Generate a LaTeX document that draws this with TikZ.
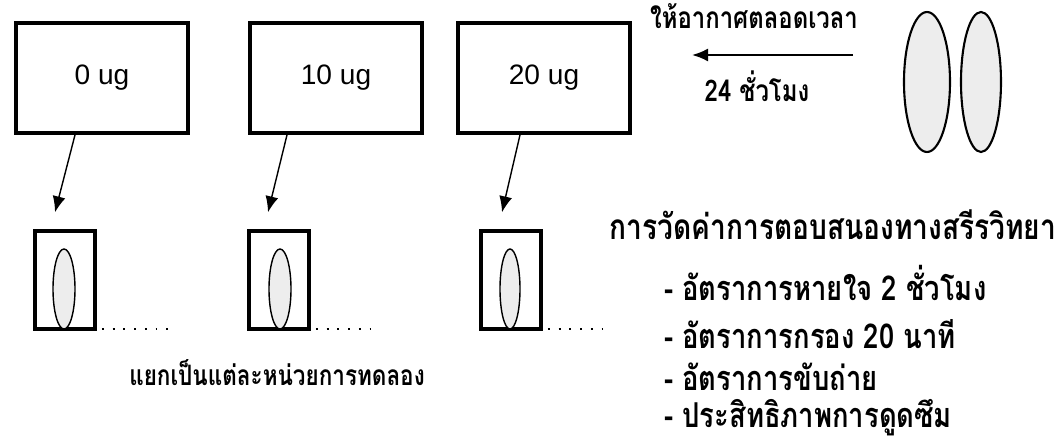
\documentclass[tikz,border=0pt]{standalone}
\usepackage{fontspec}
\setmainfont{Liberation Sans}
\newfontfamily\thaifont[Script=Thai,FakeStretch=0.8]{Loma}
\usetikzlibrary{arrows,arrows.meta,positioning}

\tikzset{
  tank/.style={draw, line width=2.2pt, minimum width=3.45cm, minimum height=2.2cm, font=\fontsize{16}{18}\selectfont},
  unit/.style={draw, line width=2.2pt, minimum width=1.2cm, minimum height=1.95cm},
  shell/.style={draw, line width=0.8pt, fill=black!7},
  arr/.style={-{Latex[length=3.2mm,width=2.6mm]}, line width=0.8pt},
  thai/.style={font=\thaifont\bfseries\fontsize{#1}{#1}\selectfont, inner sep=1pt},
  thai/.default=20,
  dotrow/.style={line width=1.1pt, dash pattern=on 1.1pt off 5pt}
}

\begin{document}
\begin{tikzpicture}[x=0.02cm,y=-0.02cm]
\useasboundingbox (0,0) rectangle (1063,442);
% dose groups
\node[tank] (big1) at (102,78) {0 ug};
\node[tank] (big2) at (336,78) {10 ug};
\node[tank] (big3) at (544,78) {20 ug};
% single experimental units
\node[unit] (small1) at (65,280) {};
\node[unit] (small2) at (279,280) {};
\node[unit] (small3) at (511,280) {};
\draw[shell] (64,289) ellipse (11 and 40);
\draw[shell] (280,289) ellipse (11 and 40);
\draw[shell] (510,289) ellipse (10 and 40);
\draw[dotrow] ([xshift=0.1cm,yshift=0.04cm]small1.south east) -- ++(70,0);
\draw[dotrow] ([xshift=0.1cm,yshift=0.04cm]small2.south east) -- ++(62,0);
\draw[dotrow] ([xshift=0.1cm,yshift=0.04cm]small3.south east) -- ++(58,0);
\draw[arr] ([xshift=-0.54cm]big1.south) -- ([xshift=-0.2cm,yshift=0.34cm]small1.north);
\draw[arr] ([xshift=-0.98cm]big2.south) -- ([xshift=-0.22cm,yshift=0.34cm]small2.north);
\draw[arr] ([xshift=-0.48cm]big3.south) -- ([xshift=-0.18cm,yshift=0.34cm]small3.north);
\node[thai=16] (split) at (277,373) {แยกเป็นแต่ละหน่วยการทดลอง};
% animals kept with aeration
\draw[shell, line width=1.2pt] (927,82) ellipse (23 and 70);
\draw[shell, line width=1.2pt] (981,82) ellipse (20 and 70);
\node[thai=17] (air) at (754,16) {ให้อากาศตลอดเวลา};
\coordinate (airR) at (853,55);
\coordinate (airL) at (692,55);
\draw[arr, line width=1.2pt] (airR) -- (airL);
\node[thai=17] (hours) at (757,86) {24 ชั่วโมง};
% physiological responses
\node[thai] (resp) at (833,225) {การวัดค่าการตอบสนองทางสรีรวิทยา};
\node[thai=19.5, anchor=west] (r1) at (662,283) {- อัตราการหายใจ 2 ชั่วโมง};
\node[thai=19.5, anchor=west] (r2) at (662,334) {- อัตราการกรอง 20 นาที};
\node[thai=19.5, anchor=west] (r3) at (662,377) {- อัตราการขับถ่าย};
\node[thai=19.5, anchor=west] (r4) at (662,418) {- ประสิทธิภาพการดูดซึม};
\end{tikzpicture}
\end{document}
